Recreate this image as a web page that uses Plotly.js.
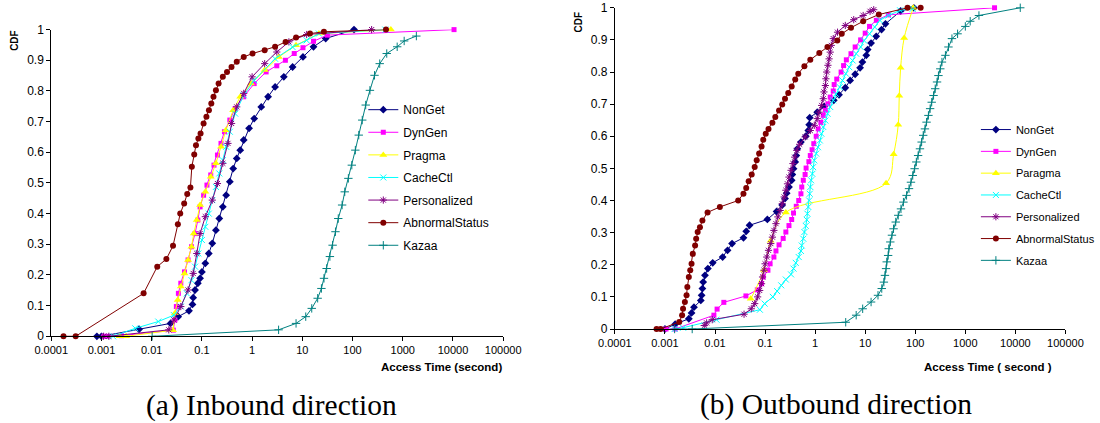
<!DOCTYPE html>
<html>
<head>
<meta charset="utf-8">
<script src="https://cdn.plot.ly/plotly-3.0.1.min.js"></script>
<style>html,body{margin:0;padding:0;background:#fff;}#chart{width:1100px;height:423px;}</style>
</head>
<body>
<div id="chart"></div>
<script>
// ---------- Series names ----------
const inNames = ["NonGet", "DynGen", "Pragma", "CacheCtl", "Personalized", "AbnormalStatus", "Kazaa"];
const outNames = ["NonGet", "DynGen", "Paragma", "CacheCtl", "Personalized", "AbnormalStatus", "Kazaa"];

// ---------- Axis ticks ----------
const xTickVals = [0.0001, 0.001, 0.01, 0.1, 1, 10, 100, 1000, 10000, 100000];
const xTickText = ["0.0001", "0.001", "0.01", "0.1", "1", "10", "100", "1000", "10000", "100000"];
const yTickVals = [0, 0.1, 0.2, 0.3, 0.4, 0.5, 0.6, 0.7, 0.8, 0.9, 1];
const yTickText = ["0", "0.1", "0.2", "0.3", "0.4", "0.5", "0.6", "0.7", "0.8", "0.9", "1"];

// ---------- (a) Inbound ----------
const inNonGetX = [0.00081, 0.001, 0.0056, 0.0237, 0.0337, 0.0553, 0.0649, 0.067, 0.073, 0.083, 0.092, 0.1, 0.117, 0.137, 0.161, 0.19, 0.222, 0.261, 0.304, 0.36, 0.42, 0.494, 0.58, 0.68, 0.87, 1.1, 1.52, 2.08, 2.87, 4.28, 6.4, 10.3, 16.7, 29.2, 107];
const inNonGetY = [0, 0, 0.023, 0.042, 0.064, 0.083, 0.104, 0.126, 0.151, 0.173, 0.189, 0.21, 0.238, 0.27, 0.303, 0.346, 0.384, 0.422, 0.46, 0.504, 0.547, 0.58, 0.607, 0.64, 0.678, 0.71, 0.748, 0.781, 0.813, 0.846, 0.878, 0.911, 0.944, 0.971, 1.0];

const inDynGenX = [0.0011, 0.0013, 0.0025, 0.027, 0.029, 0.031, 0.034, 0.038, 0.045, 0.053, 0.062, 0.073, 0.083, 0.092, 0.108, 0.126, 0.15, 0.174, 0.204, 0.24, 0.281, 0.36, 0.46, 0.68, 1.1, 1.9, 3.1, 4.6, 6.9, 10.3, 16.7, 31.6, 10500];
const inDynGenY = [0, 0, 0.002, 0.02, 0.053, 0.097, 0.14, 0.173, 0.21, 0.249, 0.292, 0.335, 0.379, 0.422, 0.46, 0.493, 0.526, 0.558, 0.591, 0.629, 0.667, 0.705, 0.743, 0.781, 0.824, 0.862, 0.882, 0.9, 0.922, 0.941, 0.962, 0.982, 1.0];

const inPragmaX = [0.0023, 0.0031, 0.0266, 0.029, 0.033, 0.038, 0.045, 0.053, 0.062, 0.069, 0.079, 0.092, 0.117, 0.15, 0.19, 0.24, 0.3, 0.42, 0.58, 0.95, 1.78, 3.4, 7.5, 21.4, 580];
const inPragmaY = [0, 0, 0.02, 0.075, 0.118, 0.162, 0.205, 0.249, 0.292, 0.335, 0.379, 0.428, 0.471, 0.52, 0.564, 0.618, 0.672, 0.737, 0.781, 0.824, 0.868, 0.911, 0.949, 0.987, 1.0];

const inCacheCtlX = [0.0017, 0.0047, 0.0135, 0.0277, 0.038, 0.05, 0.062, 0.073, 0.085, 0.1, 0.117, 0.137, 0.161, 0.19, 0.222, 0.261, 0.304, 0.36, 0.46, 0.68, 1.1, 2.87, 6.4, 12.2, 21.4, 450];
const inCacheCtlY = [0, 0.026, 0.048, 0.069, 0.097, 0.14, 0.183, 0.227, 0.27, 0.314, 0.357, 0.4, 0.444, 0.487, 0.531, 0.574, 0.618, 0.667, 0.726, 0.786, 0.835, 0.905, 0.943, 0.965, 0.987, 1.0];

const inPersonalizedX = [0.0011, 0.0014, 0.0219, 0.0277, 0.038, 0.053, 0.067, 0.079, 0.092, 0.117, 0.161, 0.204, 0.261, 0.33, 0.39, 0.494, 0.68, 1.0, 1.78, 3.1, 5.4, 12.2, 240];
const inPersonalizedY = [0, 0, 0.021, 0.053, 0.097, 0.151, 0.205, 0.27, 0.335, 0.39, 0.444, 0.498, 0.564, 0.629, 0.694, 0.748, 0.792, 0.846, 0.889, 0.927, 0.96, 0.984, 1.0];

const inAbnormalX = [0.000175, 0.000306, 0.0069, 0.0129, 0.0196, 0.0266, 0.0332, 0.037, 0.0443, 0.051, 0.059, 0.063, 0.0703, 0.0762, 0.085, 0.094, 0.108, 0.123, 0.138, 0.154, 0.17, 0.19, 0.215, 0.261, 0.316, 0.389, 0.494, 0.681, 1.02, 1.78, 2.87, 4.64, 7.5, 14.2, 26.9, 464];
const inAbnormalY = [0, 0, 0.14, 0.227, 0.252, 0.295, 0.365, 0.40, 0.433, 0.464, 0.485, 0.553, 0.593, 0.623, 0.645, 0.661, 0.694, 0.716, 0.737, 0.759, 0.781, 0.802, 0.824, 0.846, 0.862, 0.878, 0.895, 0.911, 0.922, 0.933, 0.944, 0.960, 0.974, 0.987, 0.993, 1.0];

const inKazaaX = [0.0102, 3.37, 7.5, 11.7, 15.4, 20.2, 24, 27, 30.5, 35.4, 40.1, 45.7, 52, 62, 70, 82.6, 96.8, 113.7, 133, 156, 183, 222, 274, 348, 480, 775, 1067, 1866];
const inKazaaY = [0, 0.021, 0.042, 0.064, 0.091, 0.124, 0.156, 0.189, 0.221, 0.26, 0.297, 0.341, 0.384, 0.428, 0.471, 0.515, 0.558, 0.607, 0.656, 0.705, 0.754, 0.802, 0.851, 0.889, 0.922, 0.944, 0.963, 0.979];

// ---------- (b) Outbound ----------
const outNonGetX = [0.001, 0.0016, 0.003, 0.0034, 0.0038, 0.0052, 0.0054, 0.0056, 0.0058, 0.0063, 0.0072, 0.009, 0.0142, 0.0178, 0.0219, 0.037, 0.042, 0.049, 0.111, 0.17, 0.22, 0.25, 0.27, 0.30, 0.34, 0.35, 0.37, 0.40, 0.42, 0.44, 0.52, 0.65, 0.73, 0.76, 0.78, 1.1, 1.52, 2.36, 3.0, 4.0, 5.0, 6.3, 7.9, 8.8, 10.5, 11.2, 13.1, 16.6, 21.2, 25.4, 51, 94];
const outNonGetY = [0, 0.015, 0.032, 0.05, 0.068, 0.089, 0.105, 0.126, 0.146, 0.167, 0.188, 0.206, 0.224, 0.245, 0.266, 0.284, 0.304, 0.323, 0.341, 0.366, 0.386, 0.406, 0.423, 0.442, 0.463, 0.481, 0.499, 0.52, 0.54, 0.561, 0.582, 0.6, 0.618, 0.636, 0.658, 0.675, 0.693, 0.712, 0.729, 0.751, 0.774, 0.793, 0.813, 0.831, 0.852, 0.87, 0.89, 0.911, 0.932, 0.95, 0.99, 1.0];

const outDynGenX = [0.00105, 0.0016, 0.0095, 0.011, 0.015, 0.0414, 0.07, 0.085, 0.092, 0.114, 0.126, 0.15, 0.165, 0.19, 0.23, 0.26, 0.30, 0.34, 0.37, 0.42, 0.47, 0.52, 0.54, 0.58, 0.63, 0.66, 0.75, 0.80, 0.87, 0.94, 1.05, 1.15, 1.30, 1.45, 1.6, 1.8, 2.0, 2.3, 2.4, 2.7, 3.3, 3.7, 4.2, 5.2, 6.3, 8.1, 10.0, 12.2, 16.7, 29, 3830];
const outDynGenY = [0, 0, 0.043, 0.062, 0.083, 0.103, 0.122, 0.141, 0.162, 0.183, 0.203, 0.224, 0.243, 0.262, 0.282, 0.302, 0.322, 0.341, 0.361, 0.382, 0.4, 0.421, 0.442, 0.463, 0.481, 0.501, 0.521, 0.54, 0.558, 0.577, 0.6, 0.623, 0.643, 0.665, 0.681, 0.701, 0.722, 0.741, 0.761, 0.778, 0.8, 0.82, 0.838, 0.857, 0.878, 0.9, 0.921, 0.942, 0.961, 0.978, 1.0];

const outParagmaX = [0.0517, 0.095, 0.129, 0.26, 26.1, 37, 45.7, 47.9, 51, 60, 91];
const outParagmaY = [0.094, 0.184, 0.275, 0.363, 0.454, 0.544, 0.636, 0.726, 0.813, 0.906, 1.0];

const outCacheCtlX = [0.00156, 0.0023, 0.0107, 0.0787, 0.098, 0.143, 0.174, 0.21, 0.26, 0.33, 0.37, 0.41, 0.47, 0.52, 0.54, 0.58, 0.61, 0.65, 0.68, 0.70, 0.73, 0.76, 0.78, 0.80, 0.83, 0.88, 0.91, 0.96, 1.05, 1.14, 1.24, 1.33, 1.45, 1.6, 1.77, 2.0, 2.3, 2.6, 3.1, 3.5, 4.1, 4.8, 5.6, 6.6, 8.1, 9.5, 12.2, 15.5, 19.6, 29, 49.8, 89];
const outCacheCtlY = [0, 0.004, 0.029, 0.06, 0.079, 0.1, 0.118, 0.136, 0.154, 0.17, 0.188, 0.206, 0.224, 0.243, 0.26, 0.281, 0.302, 0.321, 0.34, 0.359, 0.38, 0.4, 0.421, 0.442, 0.463, 0.483, 0.504, 0.525, 0.546, 0.566, 0.587, 0.608, 0.629, 0.649, 0.67, 0.691, 0.712, 0.732, 0.753, 0.774, 0.795, 0.815, 0.836, 0.857, 0.878, 0.898, 0.919, 0.94, 0.961, 0.976, 0.992, 0.997];

const outPersonalizedX = [0.0061, 0.0068, 0.0088, 0.038, 0.053, 0.062, 0.071, 0.078, 0.085, 0.089, 0.095, 0.1, 0.108, 0.117, 0.13, 0.14, 0.15, 0.165, 0.18, 0.20, 0.22, 0.24, 0.26, 0.28, 0.30, 0.33, 0.36, 0.39, 0.43, 0.49, 0.63, 0.8, 0.96, 1.1, 1.2, 1.35, 1.45, 1.5, 1.6, 1.64, 1.7, 1.8, 1.9, 2.0, 2.1, 2.3, 2.8, 4.0, 5.9, 9.1, 12.5, 14.8];
const outPersonalizedY = [0.011, 0.019, 0.029, 0.046, 0.063, 0.079, 0.1, 0.12, 0.141, 0.162, 0.183, 0.203, 0.224, 0.245, 0.266, 0.286, 0.307, 0.328, 0.349, 0.369, 0.39, 0.411, 0.432, 0.452, 0.473, 0.494, 0.515, 0.535, 0.556, 0.575, 0.598, 0.618, 0.634, 0.655, 0.675, 0.696, 0.717, 0.738, 0.758, 0.779, 0.8, 0.821, 0.841, 0.862, 0.883, 0.904, 0.924, 0.945, 0.963, 0.976, 0.989, 0.994];

const outAbnormalX = [0.00068, 0.00082, 0.00193, 0.0022, 0.0023, 0.0025, 0.0027, 0.0028, 0.0030, 0.0032, 0.0034, 0.0036, 0.0040, 0.0042, 0.0045, 0.0050, 0.0056, 0.0071, 0.0125, 0.029, 0.037, 0.042, 0.047, 0.054, 0.062, 0.068, 0.076, 0.085, 0.092, 0.103, 0.117, 0.14, 0.16, 0.19, 0.22, 0.25, 0.29, 0.34, 0.40, 0.46, 0.61, 0.80, 1.21, 1.76, 2.77, 3.4, 5.2, 9.1, 18.7, 70, 128];
const outAbnormalY = [0, 0, 0.022, 0.043, 0.063, 0.084, 0.105, 0.131, 0.162, 0.183, 0.203, 0.234, 0.26, 0.281, 0.302, 0.317, 0.338, 0.363, 0.38, 0.4, 0.421, 0.439, 0.46, 0.481, 0.504, 0.525, 0.546, 0.568, 0.589, 0.608, 0.623, 0.642, 0.66, 0.68, 0.699, 0.717, 0.735, 0.755, 0.777, 0.795, 0.818, 0.838, 0.859, 0.878, 0.898, 0.919, 0.938, 0.958, 0.979, 1.0, 1.0];

const outKazaaX = [0.00156, 0.0035, 4.08, 6.6, 8.9, 13.1, 18.0, 21.4, 23.6, 24.8, 26.1, 26.9, 28.7, 29.5, 31.7, 34.2, 36.8, 40.7, 45.7, 51.8, 58, 67, 75, 82, 89, 97, 105, 114, 124, 134, 144, 156, 168, 183, 198, 213, 232, 250, 272, 290, 316, 341, 400, 460, 540, 700, 1000, 1250, 1870, 12500];
const outKazaaY = [0, 0, 0.021, 0.043, 0.063, 0.084, 0.105, 0.126, 0.146, 0.167, 0.188, 0.209, 0.229, 0.25, 0.271, 0.292, 0.312, 0.333, 0.354, 0.374, 0.395, 0.416, 0.437, 0.457, 0.478, 0.499, 0.52, 0.54, 0.561, 0.582, 0.603, 0.623, 0.644, 0.665, 0.686, 0.706, 0.727, 0.748, 0.769, 0.789, 0.81, 0.831, 0.852, 0.878, 0.904, 0.919, 0.942, 0.958, 0.976, 1.0];

// ---------- Styles ----------
const styles = [
  {color: "#000080", symbol: "diamond", size: 6, lw: 0},
  {color: "#FF00FF", symbol: "square", size: 5, lw: 0},
  {color: "#FFFF00", symbol: "triangle-up", size: 7, lw: 0},
  {color: "#00FFFF", symbol: "x-thin-open", size: 6, lw: 1},
  {color: "#800080", symbol: "asterisk-open", size: 6, lw: 1},
  {color: "#800000", symbol: "circle", size: 6, lw: 0},
  {color: "#008080", symbol: "cross-thin-open", size: 6, lw: 1}
];

const inData = [[inNonGetX, inNonGetY], [inDynGenX, inDynGenY], [inPragmaX, inPragmaY], [inCacheCtlX, inCacheCtlY], [inPersonalizedX, inPersonalizedY], [inAbnormalX, inAbnormalY], [inKazaaX, inKazaaY]];
const outData = [[outNonGetX, outNonGetY], [outDynGenX, outDynGenY], [outParagmaX, outParagmaY], [outCacheCtlX, outCacheCtlY], [outPersonalizedX, outPersonalizedY], [outAbnormalX, outAbnormalY], [outKazaaX, outKazaaY]];

function mk(d, i, names, xa, ya, leg, group, spline) {
  const s = styles[i];
  return {
    x: d[0], y: d[1], name: names[i], type: "scatter", mode: "lines+markers",
    xaxis: xa, yaxis: ya, legend: leg, legendgroup: group + i, cliponaxis: false,
    line: {color: s.color, width: 1, shape: spline ? "spline" : "linear"},
    marker: {color: s.color, symbol: s.symbol, size: s.size, line: {color: s.color, width: s.lw}}
  };
}

const traces = [];
inData.forEach((d, i) => traces.push(mk(d, i, inNames, "x", "y", "legend", "a", false)));
outData.forEach((d, i) => traces.push(mk(d, i, outNames, "x2", "y2", "legend2", "b", i === 2)));

const FONT = "Liberation Sans, Arial, sans-serif";
function xax(domain, anchor) {
  return {domain: domain, anchor: anchor, type: "log", range: [-4, 5], tickmode: "array",
    tickvals: xTickVals, ticktext: xTickText, ticks: "outside", ticklen: 4, tickcolor: "#000",
    showline: true, linecolor: "#000", linewidth: 1, showgrid: false, zeroline: false,
    tickfont: {family: FONT, size: 11, color: "#000"}};
}
function yax(domain, anchor) {
  return {domain: domain, anchor: anchor, range: [0, 1], tickmode: "array",
    tickvals: yTickVals, ticktext: yTickText, ticks: "outside", ticklen: 4, tickcolor: "#000",
    showline: true, linecolor: "#000", linewidth: 1, showgrid: false, zeroline: false,
    tickfont: {family: FONT, size: 12, color: "#000"}};
}

const layout = {
  width: 1100, height: 423,
  margin: {l: 0, r: 0, t: 0, b: 0},
  paper_bgcolor: "#fff", plot_bgcolor: "#fff",
  showlegend: true,
  xaxis: xax([0.0470, 0.4612], "y"),
  yaxis: yax([0.2050, 0.9300], "x"),
  xaxis2: xax([0.5636, 0.9766], "y2"),
  yaxis2: yax([0.2222, 0.9816], "x2"),
  legend: {x: 0.333, y: 0.775, xanchor: "left", yanchor: "top", bgcolor: "rgba(0,0,0,0)",
    traceorder: "grouped", tracegroupgap: 3.6, font: {family: FONT, size: 12, color: "#000"}},
  legend2: {x: 0.8945, y: 0.728, xanchor: "left", yanchor: "top", bgcolor: "rgba(0,0,0,0)",
    traceorder: "grouped", tracegroupgap: 2.8, font: {family: FONT, size: 11, color: "#000"}},
  annotations: [
    {text: "CDF", xref: "paper", yref: "paper", x: 0.0127, y: 0.9054, textangle: -90, showarrow: false,
     xanchor: "center", yanchor: "middle", font: {family: FONT, size: 10, weight: "bold", color: "#000"}},
    {text: "CDF", xref: "paper", yref: "paper", x: 0.5303, y: 0.948, textangle: -90, showarrow: false,
     xanchor: "center", yanchor: "middle", font: {family: FONT, size: 10, weight: "bold", color: "#000"}},
    {text: "Access Time (second)", xref: "paper", yref: "paper", x: 0.4621, y: 0.1331, showarrow: false,
     xanchor: "right", yanchor: "middle", font: {family: FONT, size: 11.5, weight: "bold", color: "#000"}},
    {text: "Access Time ( second )", xref: "paper", yref: "paper", x: 0.9657, y: 0.1331, showarrow: false,
     xanchor: "right", yanchor: "middle", font: {family: FONT, size: 11.5, weight: "bold", color: "#000"}},
    {text: "(a) Inbound direction", xref: "paper", yref: "paper", x: 0.2488, y: 0.0402, showarrow: false,
     xanchor: "center", yanchor: "middle", font: {family: "Liberation Serif, Times New Roman, serif", size: 29.5, color: "#000"}},
    {text: "(b) Outbound direction", xref: "paper", yref: "paper", x: 0.7664, y: 0.0426, showarrow: false,
     xanchor: "center", yanchor: "middle", font: {family: "Liberation Serif, Times New Roman, serif", size: 29.5, color: "#000"}}
  ]
};

Plotly.newPlot("chart", traces, layout, {displayModeBar: false, staticPlot: true});
</script>
</body>
</html>
